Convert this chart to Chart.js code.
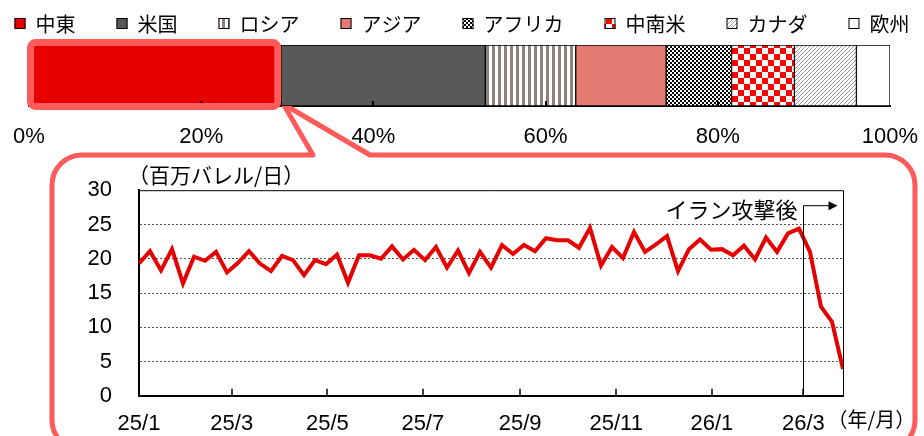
<!DOCTYPE html>
<html lang="ja">
<head>
<meta charset="utf-8">
<script src="https://cdn.jsdelivr.net/npm/chart.js@4.4.1/dist/chart.umd.min.js"></script>
<style>
  body { margin: 0; background: #fff; }
  #wrap { position: relative; width: 924px; height: 436px; overflow: hidden; }
  canvas { position: absolute; left: 0; }
  #shareChart { top: 0; }
  #flowChart { top: 150px; }
</style>
</head>
<body>
<div id="wrap">
  <canvas id="shareChart" width="924" height="436"></canvas>
  <canvas id="flowChart" width="924" height="286"></canvas>
</div>
<script>
// 仕向け地別シェア（%）
const regions = ['中東', '米国', 'ロシア', 'アジア', 'アフリカ', '中南米', 'カナダ', '欧州'];
const shares = [29.3, 23.7, 10.5, 10.5, 7.6, 7.3, 7.2, 3.9];
const shareTicks = [0, 20, 40, 60, 80, 100];

// 週次（百万バレル/日）
const weeklyFlow = [
  19.3, 21.1, 18.3, 21.4, 16.4, 20.3, 19.7, 21.0, 18.0, 19.4,
  21.1, 19.3, 18.2, 20.4, 19.8, 17.6, 19.8, 19.2, 20.6, 16.5,
  20.5, 20.5, 20.0, 21.8, 19.9, 21.3, 19.8, 21.7, 18.7, 21.2,
  17.9, 21.0, 18.7, 22.0, 20.7, 22.0, 21.1, 23.0, 22.7, 22.7,
  21.6, 24.5, 19.0, 21.7, 20.1, 23.9, 21.0, 22.1, 23.3, 18.2,
  21.4, 22.8, 21.3, 21.4, 20.5, 21.9, 19.9, 23.1, 21.0, 23.7,
  24.4, 21.0, 13.0, 10.8, 3.9
];
// 月の区切り（週の位置）
const monthTicks = [0, 8.43, 17.12, 25.8, 34.65, 43.38, 52.08, 60.4];
const monthLabels = ['25/1', '25/3', '25/5', '25/7', '25/9', '25/11', '26/1', '26/3'];

const RED = '#e60000';
const PINK = '#ff5b5b';
const NUM_FONT = 'Liberation Sans, Arial, sans-serif';
const JP_FONT = '"Noto Sans CJK JP", sans-serif';

function tile(w, h, draw) {
  const c = document.createElement('canvas');
  c.width = w; c.height = h;
  const g = c.getContext('2d');
  g.fillStyle = '#fff';
  g.fillRect(0, 0, w, h);
  draw(g);
  return g.createPattern(c, 'repeat');
}

const fills = [
  RED,
  '#595959',
  tile(6, 1, g => { g.fillStyle = '#8f817c'; g.fillRect(0, 0, 3, 1); }),
  '#e47c73',
  tile(4, 4, g => { g.fillStyle = '#000'; g.fillRect(0, 0, 2, 2); g.fillRect(2, 2, 2, 2); }),
  tile(12, 12, g => { g.fillStyle = '#ff0000'; g.fillRect(0, 0, 6, 6); g.fillRect(6, 6, 6, 6); }),
  tile(4, 4, g => { g.fillStyle = '#999'; for (let i = 0; i < 4; i++) g.fillRect(3 - i, i, 1, 1); }),
  '#fff'
];

function roundRect(ctx, x1, y1, x2, y2, r) {
  ctx.beginPath();
  ctx.moveTo(x1 + r, y1);
  ctx.arcTo(x2, y1, x2, y2, r);
  ctx.arcTo(x2, y2, x1, y2, r);
  ctx.arcTo(x1, y2, x1, y1, r);
  ctx.arcTo(x1, y1, x2, y1, r);
  ctx.closePath();
}

// 吹き出し・凡例・目盛り
const calloutPlugin = {
  id: 'callout',
  beforeDatasetsDraw(chart) {
    const { ctx, chartArea: a } = chart;
    const endX = chart.scales.x.getPixelForValue(shares[0]);
    const L = 52, R = 915, T = 155, B = 450, r = 30;
    ctx.save();
    ctx.beginPath();
    ctx.moveTo(L + r, T);
    ctx.lineTo(313, T);
    ctx.lineTo(endX + 2, a.bottom - 2);
    ctx.lineTo(370, T);
    ctx.arcTo(R, T, R, B, r);
    ctx.arcTo(R, B, L, B, r);
    ctx.arcTo(L, B, L, T, r);
    ctx.arcTo(L, T, R, T, r);
    ctx.closePath();
    ctx.fillStyle = '#fff';
    ctx.fill();
    ctx.strokeStyle = PINK;
    ctx.lineWidth = 5;
    ctx.lineJoin = 'round';
    ctx.stroke();
    ctx.restore();
  },
  afterDatasetsDraw(chart) {
    const { ctx, chartArea: a } = chart;
    const x = chart.scales.x;
    ctx.save();
    // 内向きの目盛り
    ctx.strokeStyle = '#000';
    ctx.lineWidth = 2;
    shareTicks.slice(1, -1).forEach(v => {
      const px = Math.round(x.getPixelForValue(v));
      ctx.beginPath();
      ctx.moveTo(px, a.bottom);
      ctx.lineTo(px, a.bottom - 5);
      ctx.stroke();
    });
    // 中東の強調枠
    const endX = x.getPixelForValue(shares[0]);
    roundRect(ctx, a.left + 1.5, a.top - 2.5, endX - 3.5, a.bottom + 0.5, 5);
    ctx.strokeStyle = PINK;
    ctx.lineWidth = 7;
    ctx.stroke();

    // 凡例
    ctx.font = '20px ' + JP_FONT;
    ctx.textBaseline = 'middle';
    ctx.textAlign = 'left';
    const box = 11, gapText = 10, gapItem = 41;
    const widths = regions.map(t => ctx.measureText(t).width);
    const total = widths.reduce((s, w) => s + box + gapText + w, 0) + gapItem * (regions.length - 1);
    let cx = (chart.width - total) / 2;
    regions.forEach((t, i) => {
      ctx.fillStyle = fills[i];
      ctx.fillRect(cx, 18, box, box);
      ctx.strokeStyle = '#000';
      ctx.lineWidth = 1;
      ctx.strokeRect(cx + 0.5, 18.5, box - 1, box - 1);
      ctx.fillStyle = '#000';
      ctx.fillText(t, cx + box + gapText, 24);
      cx += box + gapText + widths[i] + gapItem;
    });
    ctx.restore();
  }
};

new Chart(document.getElementById('shareChart'), {
  type: 'bar',
  data: {
    labels: ['シェア'],
    datasets: regions.map((r, i) => ({
      label: r,
      data: [shares[i]],
      backgroundColor: fills[i],
      borderColor: '#000',
      borderWidth: 1,
      borderSkipped: false
    }))
  },
  options: {
    indexAxis: 'y',
    responsive: false,
    animation: false,
    barPercentage: 1,
    categoryPercentage: 1,
    layout: { padding: { top: 45, left: 29, right: 34, bottom: 0 } },
    plugins: { legend: { display: false }, tooltip: { enabled: false } },
    scales: {
      x: {
        stacked: true,
        min: 0,
        max: 100,
        afterBuildTicks: s => { s.ticks = shareTicks.map(v => ({ value: v })); },
        afterFit: s => { s.height = 330; s.paddingLeft = 0; s.paddingRight = 0; },
        grid: { display: false },
        border: { color: '#000', width: 2 },
        ticks: {
          color: '#000',
          padding: 10,
          maxRotation: 0,
          autoSkip: false,
          font: { family: NUM_FONT, size: 22 },
          callback: v => v + '%'
        }
      },
      y: { stacked: true, display: false }
    }
  },
  plugins: [calloutPlugin]
});

// 枠線・注記
const notePlugin = {
  id: 'notes',
  afterDraw(chart) {
    const { ctx, chartArea: a } = chart;
    const x = chart.scales.x;
    ctx.save();
    ctx.strokeStyle = '#000';
    ctx.lineWidth = 1;
    ctx.beginPath();
    ctx.moveTo(a.left, a.top + 0.5);
    ctx.lineTo(a.right + 0.5, a.top + 0.5);
    ctx.lineTo(a.right + 0.5, a.bottom);
    ctx.stroke();

    ctx.lineWidth = 1.5;
    monthTicks.slice(1).forEach(v => {
      const px = Math.round(x.getPixelForValue(v));
      ctx.beginPath();
      ctx.moveTo(px, a.bottom);
      ctx.lineTo(px, a.bottom - 7);
      ctx.stroke();
    });

    // イラン攻撃後
    const ex = Math.round(x.getPixelForValue(monthTicks[monthTicks.length - 1])) + 0.5;
    const ey = a.top + 15.5;
    ctx.lineWidth = 1;
    ctx.beginPath();
    ctx.moveTo(ex, a.bottom);
    ctx.lineTo(ex, ey);
    ctx.lineTo(ex + 26, ey);
    ctx.stroke();
    ctx.fillStyle = '#000';
    ctx.beginPath();
    ctx.moveTo(ex + 34, ey);
    ctx.lineTo(ex + 25, ey - 4.5);
    ctx.lineTo(ex + 25, ey + 4.5);
    ctx.closePath();
    ctx.fill();

    ctx.font = '22px ' + JP_FONT;
    ctx.textBaseline = 'middle';
    ctx.textAlign = 'right';
    ctx.fillText('イラン攻撃後', ex - 6, a.top + 19);

    ctx.font = '21px ' + JP_FONT;
    ctx.textAlign = 'left';
    ctx.fillText('（百万バレル/日）', a.left - 11, a.top - 15);
    ctx.font = '20px ' + JP_FONT;
    ctx.fillText('（年/月）', ex + 24, a.bottom + 24);
    ctx.restore();
  }
};

new Chart(document.getElementById('flowChart'), {
  type: 'line',
  data: {
    datasets: [{
      label: '中東',
      data: weeklyFlow.map((v, i) => ({ x: i, y: v })),
      borderColor: RED,
      borderWidth: 4,
      pointRadius: 0,
      tension: 0,
      fill: false
    }]
  },
  options: {
    responsive: false,
    animation: false,
    layout: { padding: { top: 37, right: 81, left: 0, bottom: 0 } },
    plugins: { legend: { display: false }, tooltip: { enabled: false } },
    scales: {
      x: {
        type: 'linear',
        min: 0,
        max: weeklyFlow.length - 1,
        afterBuildTicks: s => { s.ticks = monthTicks.map(v => ({ value: v })); },
        afterFit: s => { s.height = 37; },
        grid: { display: false },
        border: { color: '#000', width: 2 },
        ticks: {
          color: '#000',
          padding: 7,
          maxRotation: 0,
          autoSkip: false,
          font: { family: NUM_FONT, size: 22 },
          callback: (v, i) => monthLabels[i]
        }
      },
      y: {
        min: 0,
        max: 30,
        afterFit: s => { s.width = 139; },
        grid: {
          drawTicks: false,
          color: c => (c.tick.value > 0 && c.tick.value < 30) ? '#555' : 'rgba(0,0,0,0)'
        },
        border: { color: '#000', width: 2, dash: [2, 2] },
        ticks: {
          stepSize: 5,
          color: '#000',
          padding: 27,
          font: { family: NUM_FONT, size: 22 }
        }
      }
    }
  },
  plugins: [notePlugin]
});
</script>
</body>
</html>
